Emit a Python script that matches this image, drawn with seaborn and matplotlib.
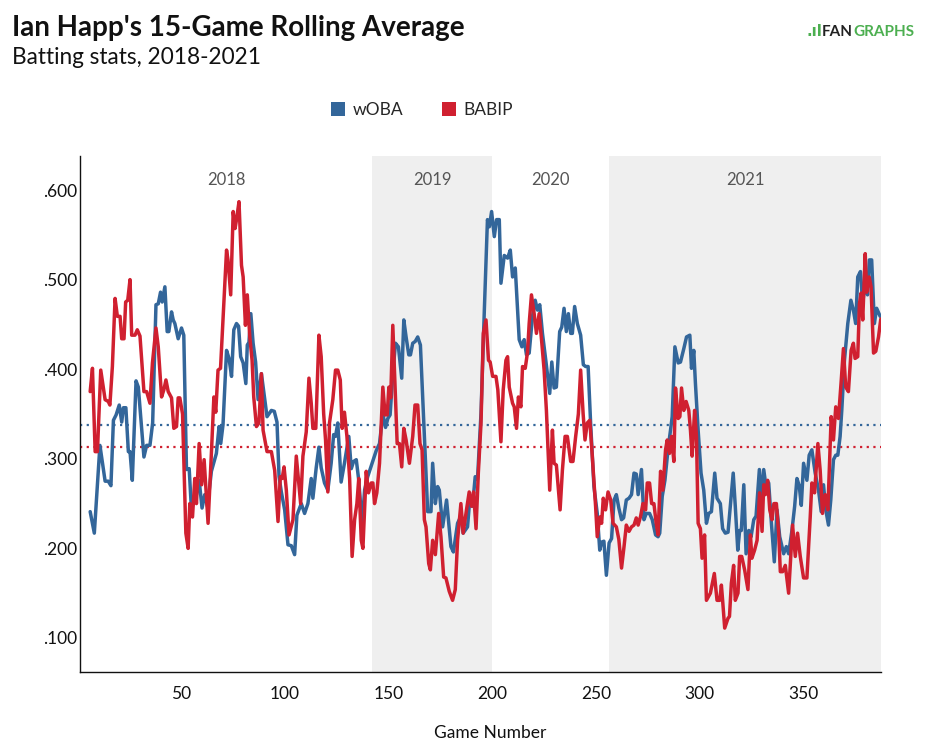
import matplotlib
matplotlib.use("Agg")
import matplotlib.pyplot as plt
from matplotlib.patches import Patch
import seaborn as sns
import pandas as pd

# ---------------- data ----------------
woba_games = [6.3, 8.3, 11, 13.5, 15, 16.3, 17.5, 18.8, 20.3, 21.5, 22.3, 23.5, 24.7, 25.5, 26.6, 28.4, 29.5,
              32.2, 33.5, 35.1, 36.4, 38, 39.1, 40.2, 41, 42.3, 43.4, 44.2, 45.5, 46.3, 47.1, 48.7, 50.3, 51.4,
              52.7, 54, 55.1, 56.3, 57.5, 58.8, 60.2, 61.5, 62.8, 64.7, 67.1, 68.4, 69.2, 70.3, 72, 73.2, 74.4,
              75.5, 76.8, 77.8, 78.8, 80, 81.3, 82, 82.8, 83.7, 84.8, 86, 87.2, 88.8, 90.4, 91.5, 93.6, 95, 96.3,
              97.3, 98.4, 100, 101.6, 103.2, 104.8, 105.9, 108, 109.6, 111.2, 112.8, 113.6, 115.2, 116.5, 117.6,
              119.2, 120.8, 122.4, 123.6, 124.5, 125.6, 127.2, 128.8, 130.9, 132.1, 133.2, 134.5, 135.7, 137.3,
              138.5, 140, 142.1, 144.1, 145.7, 147.3, 148.6, 149.7, 150.8, 152.1, 153.4, 154.8, 156.4, 157.4,
              158.5, 159.8, 160.6, 161.7, 162.9, 164.1, 165.4, 168.9, 170.5, 171.3, 172.6, 173.7, 174.5, 176.1,
              178, 180.1, 181.3, 183.3, 184.9, 186, 188.1, 189.3, 190.5, 191.8, 192.9, 194.6, 196.2, 197.7, 198.6,
              199.7, 201, 202.1, 203.4, 204.2, 205.8, 207.4, 208.7, 209.8, 211.1, 213, 214.3, 215.4, 216.5, 217.8,
              219.4, 220.7, 221.8, 222.9, 224.2, 225.8, 227.7, 228.7, 229.8, 230.9, 232.5, 233.5, 234.6, 235.7,
              236.7, 237.8, 238.6, 239.7, 241, 242.6, 243.9, 245, 246.2, 247.4, 249, 250.6, 251.8, 252.7, 253.8,
              255, 256.3, 257.5, 258.7, 259.8, 261, 262.3, 263.3, 264.6, 265.9, 267.1, 268.3, 269.4, 270.3, 271.9,
              273.1, 274.2, 275.8, 277.1, 278.7, 279.9, 280.7, 281.9, 283.2, 284.8, 285.9, 286.7, 288, 289.6,
              290.7, 292.3, 293.6, 295.2, 296, 297.1, 297.9, 299.2, 300.6, 301.9, 303.2, 304.3, 305.6, 307.2,
              308.3, 309.9, 311, 312.3, 313.6, 314.8, 316.1, 317.1, 318.3, 319.2, 320, 321.2, 322.3, 323.6, 324.7,
              326, 327.1, 328.7, 329.7, 330.8, 331.9, 333.2, 334.5, 335.9, 337.2, 338.5, 340.4, 341.7, 342.8,
              344.4, 345.7, 346.8, 347.9, 348.9, 350, 351.6, 352.7, 354, 355.6, 357.2, 358.5, 359.6, 360.7, 362,
              363.1, 364.4, 365.5, 366.5, 367.6, 368.4, 369.7, 371.3, 372.8, 374, 375.1, 376.1, 377.4, 378.5,
              379.7, 380.8, 381.7, 382.8, 384.1, 385.2, 386.9]
woba = [.241, .217, .315, .275, .275, .270, .343, .349, .360, .341, .357, .357, .308, .308, .276, .387, .380,
        .302, .315, .315, .340, .472, .473, .486, .475, .492, .442, .442, .464, .455, .451, .434, .446, .438,
        .288, .289, .243, .254, .260, .276, .245, .260, .247, .286, .306, .336, .317, .338, .421, .412, .392,
        .444, .451, .448, .414, .407, .384, .427, .430, .462, .429, .408, .366, .395, .366, .347, .354, .353, .341,
        .280, .263, .243, .204, .203, .193, .237, .250, .239, .250, .278, .256, .290, .313, .290,
        .273, .265, .295, .327, .325, .340, .274, .295, .325, .289, .297, .299, .276, .226,
        .265, .280, .295, .309, .317, .350, .335, .345, .349, .395, .429, .425, .390, .455,
        .436, .416, .416, .429, .431, .436, .427, .241, .241, .295, .250, .269, .265, .224,
        .254, .202, .196, .228, .236, .217, .224, .258, .247, .280, .277, .351, .466, .567, .559,
        .576, .548, .567, .567, .496, .527, .524, .533, .503, .513, .433, .425, .433, .416, .418,
        .459, .477, .466, .472, .440, .410, .373, .408, .379, .380, .442, .447, .468, .442,
        .462, .440, .440, .470, .451, .438, .405, .403, .403, .340, .269, .239, .198, .207, .208,
        .170, .206, .211, .254, .260, .245, .232, .234, .254, .256, .260, .284, .283, .260, .288,
        .232, .239, .239, .232, .215, .213, .217, .258, .276, .313, .332, .347, .425, .407,
        .408, .423, .436, .438, .401, .421, .384, .332, .284, .265, .228, .239, .241, .284,
        .256, .250, .222, .217, .218, .250, .284, .247, .198, .220, .220, .271, .194, .220, .213,
        .232, .236, .288, .254, .288, .269, .273, .228, .185, .243, .213, .194, .202, .194,
        .220, .247, .278, .270, .248, .295, .276, .304, .310, .284, .265, .241, .271, .243, .226,
        .254, .299, .304, .304, .325, .354, .410, .451, .477, .466, .451, .503, .509, .473,
        .500, .483, .522, .522, .451, .468, .459]

babip_games = [6.3, 7.4, 8.7, 9.8, 11.4, 13.5, 15, 15.8, 17, 18.3, 19.4, 20.7, 21.5, 22.6, 23.4, 24.4, 25.5,
               26.3, 27.9, 29, 30.3, 32.2, 33.5, 35.1, 36.3, 38, 39.1, 40.7, 41.8, 42.8, 43.9, 45.5, 46.6, 47.9,
               48.7, 49.5, 50.8, 52.4, 53.5, 54.3, 55.6, 56.7, 57.5, 58.8, 60, 61.2, 63.1, 64.7, 65.9, 66.8, 67.9,
               69.1, 72, 72.7, 74, 75.2, 76.1, 76.8, 78, 79.2, 80, 81.1, 82, 83.2, 84.3, 85.1, 86.4, 87.6, 88.8,
               89.6, 91.5, 93.6, 95.2, 96.8, 97.9, 98.8, 99.7, 100.8, 102.1, 104, 105.6, 107.7, 108.8, 110.4,
               111.7, 112.8, 113.6, 115, 116.5, 117.6, 118.8, 119.7, 120.8, 121.6, 123.2, 124.5, 125.6, 126.8,
               127.7, 128.8, 130, 131.3, 132.5, 133.7, 134.8, 135.7, 136.9, 137.7, 139.3, 140.4, 141.7, 142.5,
               143.3, 144.4, 145.7, 147.3, 148.4, 149.4, 150.2, 151.1, 152.1, 153.2, 154.2, 155.3, 156.4, 157.4,
               158.5, 160.1, 161.7, 162.8, 164.1, 165.2, 166.2, 167.3, 168.1, 169.4, 170.2, 171.3, 172.6, 174.2,
               175.3, 176.6, 177.7, 179.3, 180.9, 182.2, 183.3, 184.9, 186, 187.6, 188.9, 190, 191, 192.2, 193.3,
               194.6, 195.7, 197, 198.2, 199, 200.2, 201.8, 202.7, 204.2, 205.3, 206.6, 207.4, 208.2, 209.8,
               210.6, 211.7, 212.6, 213.8, 214.6, 215.9, 217, 217.8, 218.9, 220.2, 221.3, 222.6, 223.9, 225,
               226.1, 227.7, 229, 229.8, 230.9, 232.7, 233.8, 235.1, 236.2, 237.8, 238.9, 240.2, 241.5, 242.6,
               243.8, 244.7, 245.8, 247, 248.2, 249.8, 250.6, 251.8, 252.7, 253.5, 254.6, 255.8, 257.1, 258.2,
               259.8, 261, 262.3, 263.5, 264.6, 265.9, 267.1, 268.3, 269.4, 270.3, 271.5, 272.6, 273.9, 274.7,
               275.8, 276.8, 277.9, 279, 279.9, 281.1, 282.2, 283.5, 284.3, 285.4, 286.4, 287.5, 288.3, 289.6,
               290.4, 291.2, 292.3, 293.4, 294.7, 295.5, 296.3, 297.5, 298.4, 299.2, 300.3, 301.1, 302.3, 303.2,
               305.1, 307, 308.3, 309.6, 310.4, 311, 312, 313.6, 314.3, 315.2, 316.3, 317.1, 318.4, 319.2, 320.2,
               321.6, 323.2, 324.4, 325.1, 326.4, 327.6, 328.8, 330, 330.8, 331.6, 332.7, 333.7, 334.8, 335.7,
               336.9, 338, 338.8, 339.9, 341.2, 342.8, 344.7, 346, 347.1, 348.4, 350, 351.6, 353.2, 354, 355.3,
               356.9, 358, 359.1, 360.4, 361.7, 363.3, 364.4, 365.5, 366.8, 368.1, 369.2, 370.3, 371.6, 372.9,
               374, 374.8, 376.1, 376.9, 377.7, 378.5, 379.7, 380.4, 381.6, 382.5, 383.7, 384.8, 386.1, 387.2]
babip = [.375, .401, .308, .308, .399, .366, .364, .360, .403, .479, .459, .459, .434, .434, .475, .477, .500,
         .438, .438, .444, .437, .375, .375, .362, .407, .446, .425, .369, .377, .388, .375, .368, .334, .336,
         .368, .368, .350, .217, .200, .250, .235, .278, .250, .317, .271, .299, .228, .306, .369, .352, .399,
         .401, .533, .522, .483, .576, .557, .567, .587, .516, .503, .449, .483, .436, .410, .369, .336, .340, .395,
         .332, .308, .308, .287, .230, .280, .278, .291, .265, .215, .232, .303, .250, .303, .330,
         .390, .362, .334, .334, .438, .414, .350, .321, .263, .340, .366, .399, .399, .388,
         .334, .352, .325, .278, .191, .232, .250, .278, .209, .200, .286, .262, .273, .273,
         .250, .262, .295, .380, .349, .349, .380, .368, .449, .380, .317, .317, .291, .334,
         .321, .295, .325, .360, .360, .317, .310, .232, .224, .183, .176, .209, .193, .239,
         .213, .168, .167, .152, .142, .154, .209, .250, .217, .243, .263, .247, .263, .222, .284,
         .340, .440, .455, .410, .408, .392, .392, .377, .319, .377, .410, .414, .380, .362,
         .358, .334, .369, .358, .403, .401, .419, .451, .483, .462, .440, .462, .429, .399,
         .354, .265, .332, .295, .293, .243, .287, .325, .325, .297, .297, .325, .350, .399,
         .350, .321, .340, .343, .303, .247, .213, .235, .228, .256, .243, .263, .254, .228,
         .224, .210, .178, .202, .226, .219, .224, .226, .234, .226, .236, .250, .243, .273,
         .273, .250, .250, .228, .215, .286, .265, .310, .321, .306, .325, .297, .379, .345,
         .347, .379, .354, .364, .354, .332, .303, .354, .325, .228, .222, .189, .215, .142,
         .150, .172, .142, .142, .159, .142, .111, .122, .124, .161, .181, .142, .150, .191, .191,
         .176, .154, .215, .189, .198, .209, .262, .219, .271, .260, .276, .243, .232, .250,
         .250, .217, .174, .174, .181, .150, .226, .191, .217, .191, .167, .167, .235, .273, .262,
         .317, .287, .239, .260, .243, .347, .321, .358, .345, .386, .423, .380, .375, .421,
         .429, .412, .414, .473, .485, .455, .529, .486, .503, .492, .418, .420, .436, .456]

woba_avg = 0.338
babip_avg = 0.313

seasons = ["2018", "2019", "2020", "2021"]
season_bounds = [1.4, 142.3, 200.0, 256.3, 387.3]
shaded_seasons = ["2019", "2021"]

y_ticks = [0.1, 0.2, 0.3, 0.4, 0.5, 0.6]
y_tick_labels = [".100", ".200", ".300", ".400", ".500", ".600"]
x_ticks = [50, 100, 150, 200, 250, 300, 350]

BLUE = "#33669a"
RED = "#d02030"

# ---------------- plot ----------------
sns.set_theme(style="white")
plt.rcParams["font.family"] = ["Lato", "DejaVu Sans"]

fig = plt.figure(figsize=(9.31, 7.53), dpi=100)
ax = fig.add_axes([80 / 931, 1 - 672 / 753, (881 - 80) / 931, (672 - 156) / 753])

for i, s in enumerate(seasons):
    lo, hi = season_bounds[i], season_bounds[i + 1]
    if s in shaded_seasons:
        ax.axvspan(lo, hi, color="#efefef", lw=0, zorder=0)
    ax.text((lo + hi) / 2, 0.611, s, ha="center", va="center", fontsize=12, color="#555555")

df = pd.concat([
    pd.DataFrame({"game": woba_games, "value": woba, "stat": "wOBA"}),
    pd.DataFrame({"game": babip_games, "value": babip, "stat": "BABIP"}),
])
sns.lineplot(data=df, x="game", y="value", hue="stat", hue_order=["wOBA", "BABIP"],
             palette={"wOBA": BLUE, "BABIP": RED}, estimator=None, sort=False,
             linewidth=2.5, legend=False, ax=ax, zorder=3)

ax.axhline(woba_avg, color=BLUE, linestyle=(0, (1, 2)), linewidth=1.6, zorder=2)
ax.axhline(babip_avg, color=RED, linestyle=(0, (1, 2)), linewidth=1.6, zorder=2)

ax.set_xlim(season_bounds[0], season_bounds[-1])
ax.set_ylim(0.062, 0.638)
ax.set_yticks(y_ticks)
ax.set_yticklabels(y_tick_labels)
ax.set_xticks(x_ticks)
ax.tick_params(axis="both", labelsize=12.5, colors="#111111", length=0)
ax.tick_params(axis="y", pad=2)
ax.tick_params(axis="x", pad=10)
ax.set_xlabel("Game Number", fontsize=12.5, color="#111111")
ax.xaxis.set_label_coords(0.512, -0.103)
ax.set_ylabel("")
for side in ["top", "right"]:
    ax.spines[side].set_visible(False)
for side in ["left", "bottom"]:
    ax.spines[side].set_color("#111111")
    ax.spines[side].set_linewidth(1.0)

fig.text(12 / 931, 1 - 28 / 753, "Ian Happ's 15-Game Rolling Average", fontsize=20,
         fontweight="bold", va="center", ha="left", color="#111111")
fig.text(12 / 931, 1 - 58 / 753, "Batting stats, 2018-2021", fontsize=16.3,
         va="center", ha="left", color="#111111")

handles = [Patch(facecolor=BLUE, edgecolor="none", label="wOBA"),
           Patch(facecolor=RED, edgecolor="none", label="BABIP")]
fig.legend(handles=handles, loc="center", bbox_to_anchor=(422 / 931, 1 - 110 / 753), ncol=2,
           frameon=False, fontsize=12.5, handlelength=0.8, handleheight=0.8, columnspacing=2.2,
           handletextpad=0.45)

# FanGraphs wordmark
icon = fig.text(806 / 931, 1 - 32 / 753, ".ıl", fontsize=11, fontweight="bold", color="#4caf50",
                va="center", ha="left", family=["DejaVu Sans"])
fan = fig.text(822 / 931, 1 - 32 / 753, "FAN", fontsize=11, fontweight="bold", color="#222222",
               va="center", ha="left")
ax.annotate("GRAPHS", xy=(1.0, 0.5), xycoords=fan, xytext=(0, 0), textcoords="offset points",
            fontsize=11, fontweight="bold", color="#4caf50", va="center", ha="left",
            annotation_clip=False)

fig.savefig("out.png", dpi=100)
